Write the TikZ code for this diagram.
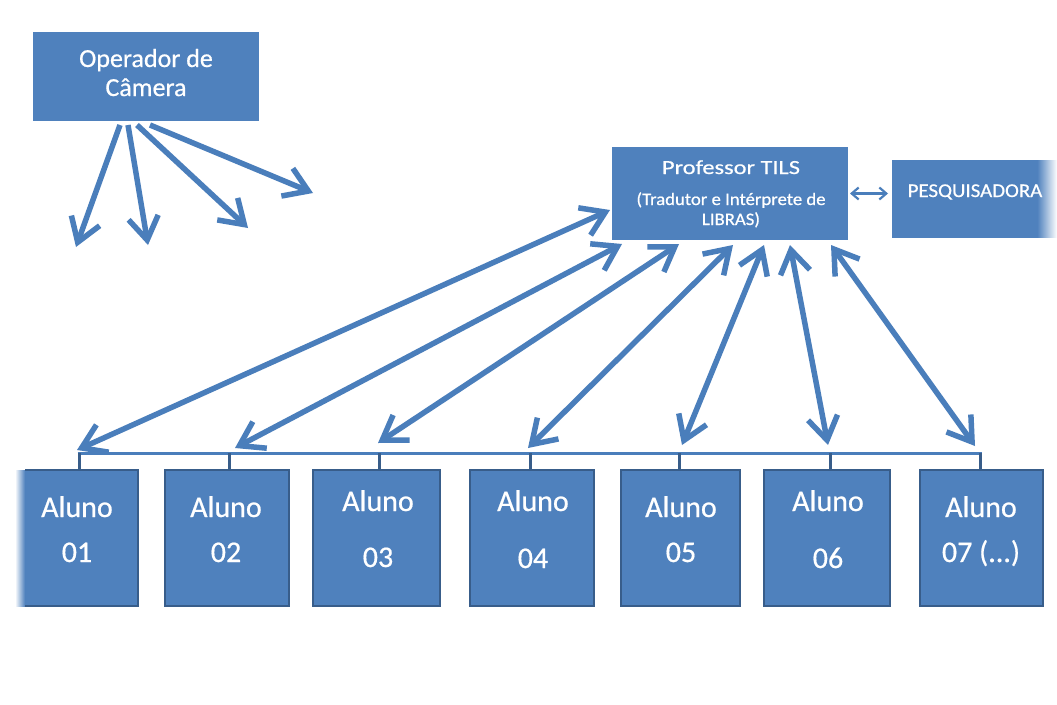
\documentclass[tikz,border=0pt]{standalone}
\usepackage{fontspec}
\setmainfont{Carlito}[FakeBold=0.6]
\newfontfamily\widefont[FakeStretch=1.22,FakeBold=0.6]{Carlito}
\newfontfamily\semiwide[FakeStretch=1.07,FakeBold=0.6]{Carlito}
\usetikzlibrary{arrows.meta}
\definecolor{ofblue}{HTML}{4F81BD}
\definecolor{ofedge}{HTML}{385D8A}
\definecolor{arrowblue}{HTML}{4A7EBB}
\pgfdeclarehorizontalshading{rightfade}{100bp}{color(0bp)=(ofblue); color(25bp)=(ofblue); color(69bp)=(ofblue); color(75bp)=(white); color(100bp)=(white)}
\pgfdeclarehorizontalshading{leftfade}{100bp}{color(0bp)=(white); color(25bp)=(white); color(29bp)=(ofblue); color(75bp)=(ofblue); color(100bp)=(ofblue)}
\tikzset{
  barbtip/.tip={Straight Barb[length=23pt,width=30pt]},
  smalltip/.tip={Straight Barb[length=7pt,width=12pt]},
}
\begin{document}
\begin{tikzpicture}[x=1pt,y=-1pt,
  blk/.style={fill=ofblue, draw=none, inner sep=0pt, outer sep=0pt, anchor=north west},
  aluno/.style={blk, draw=ofedge, line width=1.5pt, minimum height=136pt},
  txt/.style={text=white, inner sep=0pt, anchor=base},
  alunotxt/.style={txt, font=\fontsize{30}{36}\selectfont},
  bigarrow/.style={draw=arrowblue, line width=5.5pt},
  bus/.style={draw=arrowblue, line width=3pt},
  tick/.style={draw=ofedge, line width=3pt},
]
\useasboundingbox (0,0) rectangle (1057,704);
\fill[white] (0,0) rectangle (1057,704);

% main boxes
\node[blk, minimum width=226pt, minimum height=89pt] (op) at (33,32) {};
\node[blk, minimum width=236pt, minimum height=93pt] (prof) at (612,147) {};
\node[blk, shading=rightfade, minimum width=165pt, minimum height=77pt] (pesq) at (892,160) {};

% aluno boxes
\node[blk, shading=leftfade, minimum width=123pt, minimum height=136pt] (a1) at (15,470) {};
\draw[ofedge, line width=1.5pt] (a1.north west) ++(10,0) -- (a1.north east) -- (a1.south east) -- ([xshift=10pt]a1.south west);
\node[aluno, minimum width=124pt] (a2) at (165,470) {};
\node[aluno, minimum width=127pt] (a3) at (313,470) {};
\node[aluno, minimum width=124pt] (a4) at (470,470) {};
\node[aluno, minimum width=119pt] (a5) at (621,470) {};
\node[aluno, minimum width=126pt] (a6) at (764,470) {};
\node[aluno, minimum width=123pt] (a7) at (920,470) {};

% texts
\node[txt, font=\fontsize{26}{30}\selectfont] (opt1) at (146,67) {Operador de};
\node[txt, font=\fontsize{26}{30}\selectfont] (opt2) at (146,96) {Câmera};
\node[txt, font=\widefont\fontsize{20}{24}\selectfont] (pt1) at (731,174) {Professor TILS};
\node[txt, font=\semiwide\fontsize{17.5}{20}\selectfont] (pt2) at (731,205) {(Tradutor e Intérprete de};
\node[txt, font=\semiwide\fontsize{17.5}{20}\selectfont] (pt3) at (731,225) {LIBRAS)};
\node[txt, font=\semiwide\fontsize{19.5}{22}\selectfont] (qt) at (975,197) {PESQUISADORA};

\node[alunotxt] (l1a) at (77,517) {Aluno};  \node[alunotxt] (l1b) at (77,562) {01};
\node[alunotxt] (l2a) at (226,517) {Aluno}; \node[alunotxt] (l2b) at (226,562) {02};
\node[alunotxt] (l3a) at (378,511) {Aluno}; \node[alunotxt] (l3b) at (378,567) {03};
\node[alunotxt] (l4a) at (533,511) {Aluno}; \node[alunotxt] (l4b) at (533,568) {04};
\node[alunotxt] (l5a) at (681,517) {Aluno}; \node[alunotxt] (l5b) at (681,562) {05};
\node[alunotxt] (l6a) at (828,511) {Aluno}; \node[alunotxt] (l6b) at (828,568) {06};
\node[alunotxt] (l7a) at (981,517) {Aluno}; \node[alunotxt] (l7b) at (981,562) {07 (...)};

% bus with ticks
\foreach \i/\x in {1/79,2/229,3/379,4/530,5/679,6/830,7/980}{
  \coordinate (t\i) at (\x,453);
  \coordinate (b\i) at (\x,469);
}
\draw[bus] ([xshift=-1.5pt]t1) -- ([xshift=1.5pt]t7);
\foreach \i in {1,...,7}{ \draw[tick] (t\i) -- (b\i); }

% arrow end points on the bus side
\coordinate (e1) at (77,450);
\coordinate (e2) at (235,448);
\coordinate (e3) at (378,443);
\coordinate (e4) at (528,448);
\coordinate (e5) at (682,445);
\coordinate (e6) at (828,445);
\coordinate (e7) at (975,446);
% arrow end points at the professor box
\coordinate (p1) at (610,210);
\coordinate (p2) at (622,244);
\coordinate (p3) at (679,244);
\coordinate (p4) at (733,245);
\coordinate (p5) at (764,245);
\coordinate (p6) at (790,245);
\coordinate (p7) at (831,245);
\foreach \i in {1,...,7}{ \draw[bigarrow, {barbtip}-{barbtip}] (e\i) -- (p\i); }

% professor <-> pesquisadora
\draw[draw=arrowblue, line width=2.2pt, {smalltip}-{smalltip}] (prof.east) ++(2,0) coordinate (pe) (pe) -- ([xshift=-4pt]pesq.west |- pe);

% camera operator arrows
\coordinate (s1) at (120,125);
\coordinate (s2) at (128,125);
\coordinate (s3) at (137,125);
\coordinate (s4) at (150,125);
\coordinate (c1) at (76,247);
\coordinate (c2) at (148,245);
\coordinate (c3) at (248,228);
\coordinate (c4) at (313,193);
\foreach \i in {1,...,4}{ \draw[bigarrow, -{barbtip}] (s\i) -- (c\i); }
\end{tikzpicture}
\end{document}
